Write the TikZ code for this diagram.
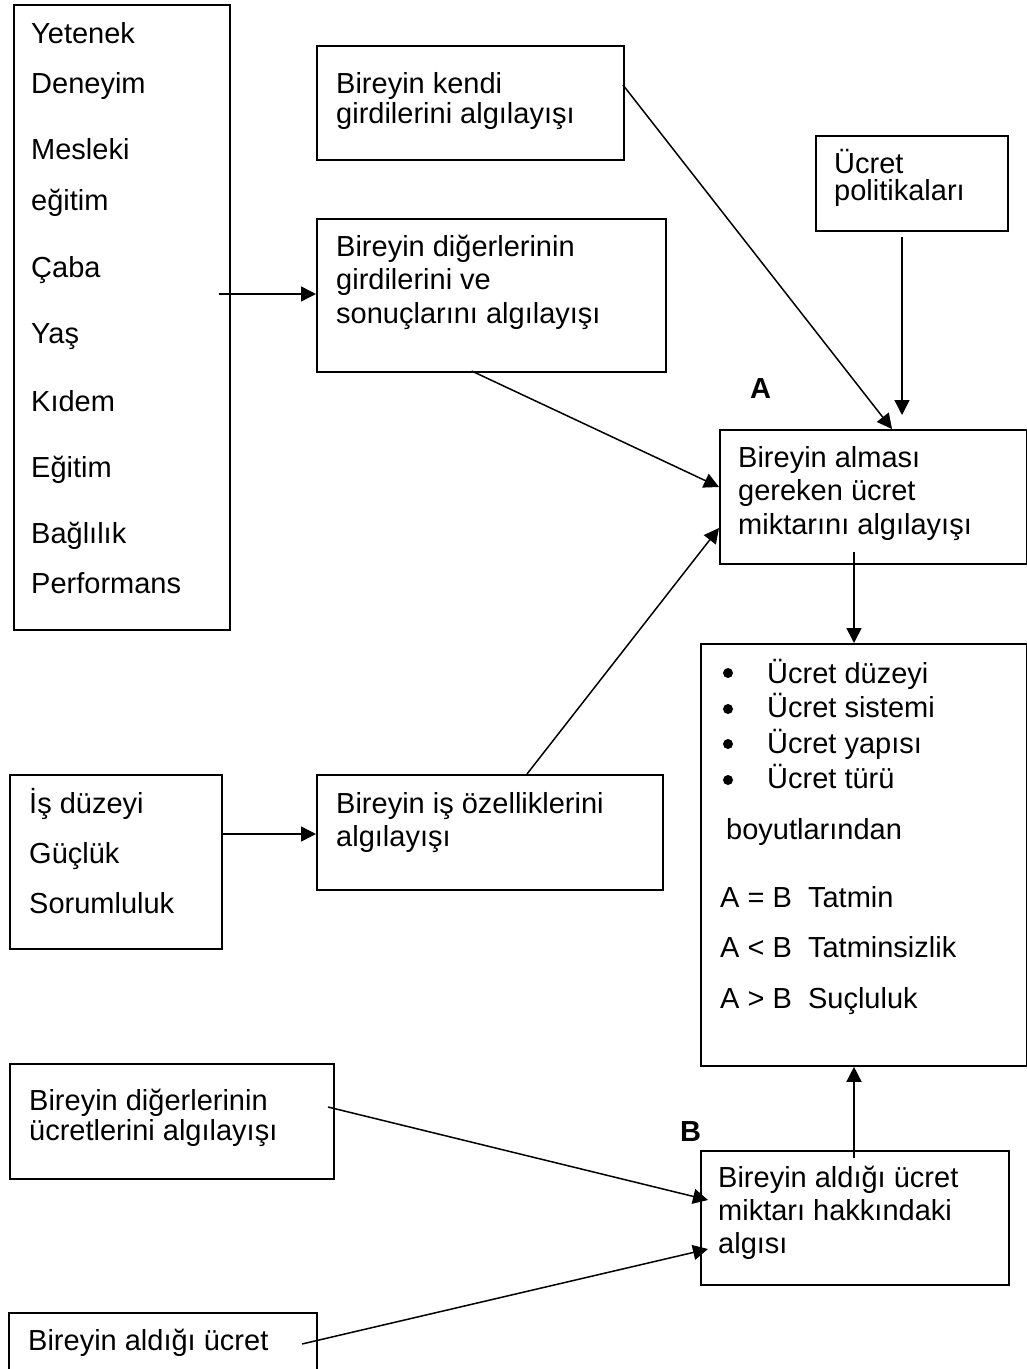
\documentclass[tikz,border=0pt]{standalone}
\usepackage{fontspec}
\setmainfont{Liberation Sans}
\usetikzlibrary{arrows.meta,calc}
\begin{document}
\begin{tikzpicture}[x=1pt,y=-1pt,
  box/.style={draw, line width=1.8pt, rectangle, inner sep=0pt, anchor=north west},
  txt/.style={inner sep=0pt, anchor=base west, font=\fontsize{29}{33}\selectfont},
  lbl/.style={inner sep=0pt, anchor=base west, font=\fontsize{29}{33}\selectfont\bfseries},
  arr/.style={line width=1.5pt, -{Triangle[length=15pt,width=15pt]}},
  dot/.style={circle, fill, inner sep=0pt, minimum size=10pt}]
\useasboundingbox (0,0) rectangle (1027,1369);

% boxes
\node[box, minimum width=216pt, minimum height=625pt] (left) at (13,4) {};
\node[box, minimum width=307pt, minimum height=114pt] (kendi) at (316,45) {};
\node[box, minimum width=192pt, minimum height=95pt] (pol) at (815,135) {};
\node[box, minimum width=349pt, minimum height=153pt] (dig) at (316,218) {};
\node[box, minimum width=307pt, minimum height=134pt] (almasi) at (719,429) {};
\node[box, minimum width=326pt, minimum height=422pt] (sonuc) at (700,643) {};
\node[box, minimum width=212pt, minimum height=174pt] (is) at (9,774) {};
\node[box, minimum width=346pt, minimum height=115pt] (isoz) at (316,774) {};
\node[box, minimum width=324pt, minimum height=115pt] (digu) at (9,1063) {};
\node[box, minimum width=308pt, minimum height=134pt] (aldigi) at (700,1150) {};
\node[box, minimum width=308pt, minimum height=90pt] (alt) at (8,1312) {};

% left box texts
\node[txt] (l1) at (31,43) {Yetenek};
\node[txt] (l2) at (31,93) {Deneyim};
\node[txt] (l3) at (31,159) {Mesleki};
\node[txt] (l4) at (31,210) {eğitim};
\node[txt] (l5) at (31,277) {Çaba};
\node[txt] (l6) at (31,343) {Yaş};
\node[txt] (l7) at (31,411) {Kıdem};
\node[txt] (l8) at (31,477) {Eğitim};
\node[txt] (l9) at (31,543) {Bağlılık};
\node[txt] (l10) at (31,593) {Performans};

% kendi
\node[txt] (k1) at (336,93) {Bireyin kendi};
\node[txt] (k2) at (336,123) {girdilerini algılayışı};

% politikalar
\node[txt] (p1) at (834,173) {Ücret};
\node[txt] (p2) at (834,200) {politikaları};

% dig
\node[txt] (d1) at (336,256) {Bireyin diğerlerinin};
\node[txt] (d2) at (336,289.5) {girdilerini ve};
\node[txt] (d3) at (336,323) {sonuçlarını algılayışı};

% A
\node[lbl] (A) at (750,398) {A};

% almasi
\node[txt] (a1) at (738,467) {Bireyin alması};
\node[txt] (a2) at (738,500.5) {gereken ücret};
\node[txt] (a3) at (738,534) {miktarını algılayışı};

% bullets
\node[dot] (b1) at (728,673) {};
\node[dot] (b2) at (728,709) {};
\node[dot] (b3) at (728,744) {};
\node[dot] (b4) at (728,780) {};
\node[txt] (s1) at (767,683) {Ücret düzeyi};
\node[txt] (s2) at (767,717.5) {Ücret sistemi};
\node[txt] (s3) at (767,753) {Ücret yapısı};
\node[txt] (s4) at (767,788.5) {Ücret türü};
\node[txt] (s5) at (726,839.5) {boyutlarından};
\node[txt] (s6) at (720,907.5) {A = B\ \ Tatmin};
\node[txt] (s7) at (720,957) {A < B\ \ Tatminsizlik};
\node[txt] (s8) at (720,1008.5) {A > B\ \ Suçluluk};

% is
\node[txt] (i1) at (29,813) {İş düzeyi};
\node[txt] (i2) at (29,863) {Güçlük};
\node[txt] (i3) at (29,913) {Sorumluluk};

% isoz
\node[txt] (o1) at (336,813) {Bireyin iş özelliklerini};
\node[txt] (o2) at (336,846) {algılayışı};

% digu
\node[txt] (u1) at (29,1110) {Bireyin diğerlerinin};
\node[txt] (u2) at (29,1140) {ücretlerini algılayışı};

% B
\node[lbl] (B) at (680,1141) {B};

% aldigi
\node[txt] (g1) at (718,1187.5) {Bireyin aldığı ücret};
\node[txt] (g2) at (718,1220.5) {miktarı hakkındaki};
\node[txt] (g3) at (718,1253.5) {algısı};

% bottom
\node[txt] (t1) at (28,1350) {Bireyin aldığı ücret};

% connector end points
\coordinate (c1) at (219,294);
\coordinate (c2) at (623,85);
\coordinate (c3) at (892,429);
\coordinate (c4s) at (902,237);
\coordinate (c4e) at (902,415);
\coordinate (c5) at (471.7,371);
\coordinate (c6) at (527,774);
\coordinate (c7) at (221,834);
\coordinate (c8) at (854,552);
\coordinate (c9) at (854,1158);
\coordinate (c10) at (328,1107);
\coordinate (c11) at (302,1344);

% connectors
\draw[arr] (c1) -- (c1 -| dig.west);
\draw[arr] (c2) -- (c3);
\draw[arr] (c4s) -- (c4e);
\draw[arr] (c5) -- (almasi.west |- 0,487);
\draw[arr] (c6) -- (almasi.west |- 0,528);
\draw[arr] (c7) -- (c7 -| isoz.west);
\draw[arr] (c8) -- (c8 |- sonuc.north);
\draw[arr] (c9) -- (c9 |- sonuc.south);
\draw[arr] (c10) -- ($(aldigi.west |- 0,1200)+(8,0)$);
\draw[arr] (c11) -- ($(aldigi.west |- 0,1249)+(8,0)$);
\end{tikzpicture}
\end{document}
